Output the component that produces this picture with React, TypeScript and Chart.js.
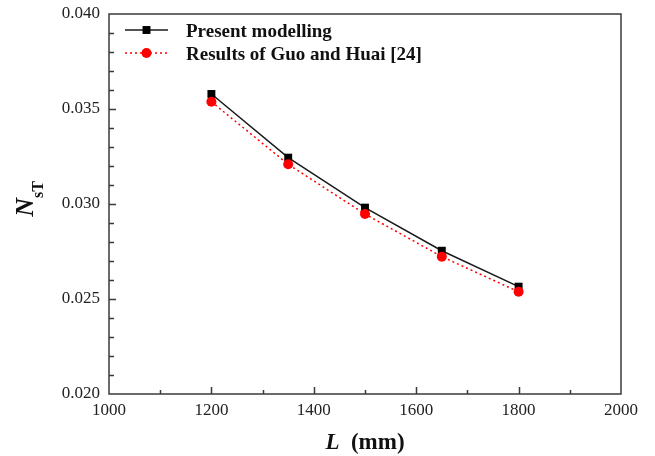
import React, { useEffect, useRef } from "react";
import { Chart, registerables } from "chart.js";

Chart.register(...registerables);

const lengths = [1200, 1350, 1500, 1650, 1800];
const presentModelling = [0.03579, 0.03244, 0.02981, 0.02754, 0.02565];
const guoHuai = [0.03538, 0.03209, 0.02947, 0.02723, 0.02538];
const seriesNames = ["Present modelling", "Results of Guo and Huai [24]"];
const xRange = [1000, 2000];
const xStep = 200;
const xMinorStep = 100;
const yRange = [0.02, 0.04];
const yStep = 0.005;
const yMinorStep = 0.001;

const SERIF = "'Liberation Serif', 'Times New Roman', serif";

const decor = {
  id: "decor",
  afterDraw(chart: any) {
    const { ctx, chartArea, scales } = chart;
    const { left, right, top, bottom } = chartArea;
    const xs = scales.x;
    const ys = scales.y;
    ctx.save();
    ctx.strokeStyle = "#3a3a3a";
    ctx.lineWidth = 1.5;
    ctx.strokeRect(left, top, right - left, bottom - top);

    // x ticks (inward)
    const nx = Math.round((xRange[1] - xRange[0]) / xMinorStep);
    const xr = Math.round(xStep / xMinorStep);
    ctx.beginPath();
    for (let i = 1; i < nx; i++) {
      const v = xRange[0] + i * xMinorStep;
      const px = Math.round(xs.getPixelForValue(v)) + 0.5;
      const len = i % xr === 0 ? 7 : 4;
      ctx.moveTo(px, bottom);
      ctx.lineTo(px, bottom - len);
    }
    // y ticks (inward)
    const ny = Math.round((yRange[1] - yRange[0]) / yMinorStep);
    const yr = Math.round(yStep / yMinorStep);
    for (let i = 1; i < ny; i++) {
      const v = yRange[0] + i * yMinorStep;
      const py = Math.round(ys.getPixelForValue(v)) + 0.5;
      const len = i % yr === 0 ? 7 : 5;
      ctx.moveTo(left, py);
      ctx.lineTo(left + len, py);
    }
    ctx.stroke();

    // legend
    const ds = chart.data.datasets;
    const rows = [top + 16, top + 39];
    const x0 = left + 16;
    const x1 = left + 59;
    ds.forEach((d: any, i: number) => {
      const yy = rows[i];
      ctx.save();
      ctx.strokeStyle = d.borderColor;
      ctx.lineWidth = d.borderWidth;
      ctx.setLineDash(d.borderDash || []);
      ctx.beginPath();
      ctx.moveTo(x0, yy);
      ctx.lineTo(x1, yy);
      ctx.stroke();
      ctx.setLineDash([]);
      ctx.fillStyle = d.pointBackgroundColor;
      const cx = (x0 + x1) / 2;
      if (d.pointStyle === "rect") {
        const s = d.pointRadius * Math.SQRT1_2;
        ctx.fillRect(cx - s, yy - s, 2 * s, 2 * s);
      } else {
        ctx.beginPath();
        ctx.arc(cx, yy, d.pointRadius, 0, Math.PI * 2);
        ctx.fill();
      }
      ctx.fillStyle = "#111";
      ctx.font = `bold 19px ${SERIF}`;
      ctx.textBaseline = "middle";
      ctx.textAlign = "left";
      ctx.fillText(d.label, left + 77, yy + 2);
      ctx.restore();
    });

    // x title
    ctx.fillStyle = "#111";
    ctx.textBaseline = "alphabetic";
    ctx.textAlign = "left";
    const f1 = `italic bold 23px ${SERIF}`;
    const f2 = `bold 23px ${SERIF}`;
    ctx.font = f1;
    const wL = ctx.measureText("L").width;
    ctx.font = f2;
    const wR = ctx.measureText("  (mm)").width;
    const cxT = (left + right) / 2;
    const sx = cxT - (wL + wR) / 2;
    ctx.font = f1;
    ctx.fillText("L", sx, 449);
    ctx.font = f2;
    ctx.fillText("  (mm)", sx + wL, 449);

    // y title
    ctx.save();
    ctx.translate(33, 199);
    ctx.rotate(-Math.PI / 2);
    const g1 = `italic bold 26px ${SERIF}`;
    const g2 = `bold 16px ${SERIF}`;
    ctx.font = g1;
    const wN = ctx.measureText("N").width;
    ctx.font = g2;
    const wS = ctx.measureText("sT").width;
    const st = -(wN + wS) / 2;
    ctx.font = g1;
    ctx.fillText("N", st, 0);
    ctx.font = g2;
    ctx.fillText("sT", st + wN, 10);
    ctx.restore();

    ctx.restore();
  },
};

export default function App() {
  const ref = useRef<HTMLCanvasElement | null>(null);
  useEffect(() => {
    if (!ref.current) return;
    const chart = new Chart(ref.current, {
      type: "line",
      data: {
        datasets: [
          {
            label: seriesNames[0],
            data: lengths.map((x, i) => ({ x, y: presentModelling[i] })),
            borderColor: "#1a1a1a",
            borderWidth: 1.5,
            pointStyle: "rect",
            pointRadius: 5.6,
            pointBackgroundColor: "#000",
            pointBorderWidth: 0,
            pointBorderColor: "#000",
            tension: 0,
            order: 2,
          } as any,
          {
            label: seriesNames[1],
            data: lengths.map((x, i) => ({ x, y: guoHuai[i] })),
            borderColor: "#ff0000",
            borderWidth: 1.5,
            borderDash: [2, 3],
            pointStyle: "circle",
            pointRadius: 5,
            pointBackgroundColor: "#ff0000",
            pointBorderWidth: 0,
            pointBorderColor: "#ff0000",
            tension: 0,
            order: 1,
          } as any,
        ],
      },
      options: {
        animation: false,
        responsive: false,
        layout: { padding: { top: 14, right: 34, left: 0, bottom: 0 } },
        plugins: {
          legend: { display: false },
          tooltip: { enabled: false },
        },
        scales: {
          x: {
            type: "linear",
            min: xRange[0],
            max: xRange[1],
            grid: { display: false, drawTicks: false },
            border: { display: false },
            ticks: {
              stepSize: xStep,
              padding: 6,
              color: "#222",
              font: { family: SERIF, size: 17 },
              maxRotation: 0,
              callback: (v: any) => String(v),
            },
            afterFit: (s: any) => {
              s.height = 62;
              s.paddingLeft = 0;
              s.paddingRight = 0;
            },
          },
          y: {
            type: "linear",
            min: yRange[0],
            max: yRange[1],
            grid: { display: false, drawTicks: false },
            border: { display: false },
            ticks: {
              stepSize: yStep,
              padding: 9,
              color: "#222",
              font: { family: SERIF, size: 17 },
              callback: (v: any) => Number(v).toFixed(3),
            },
            afterFit: (s: any) => {
              s.width = 109;
              s.paddingTop = 0;
              s.paddingBottom = 0;
            },
          },
        },
      } as any,
      plugins: [decor],
    });
    return () => chart.destroy();
  }, []);
  return (
    <div style={{ position: "absolute", left: 0, top: 0, width: 655, height: 456, background: "#fff" }}>
      <canvas ref={ref} width={655} height={456} />
    </div>
  );
}
